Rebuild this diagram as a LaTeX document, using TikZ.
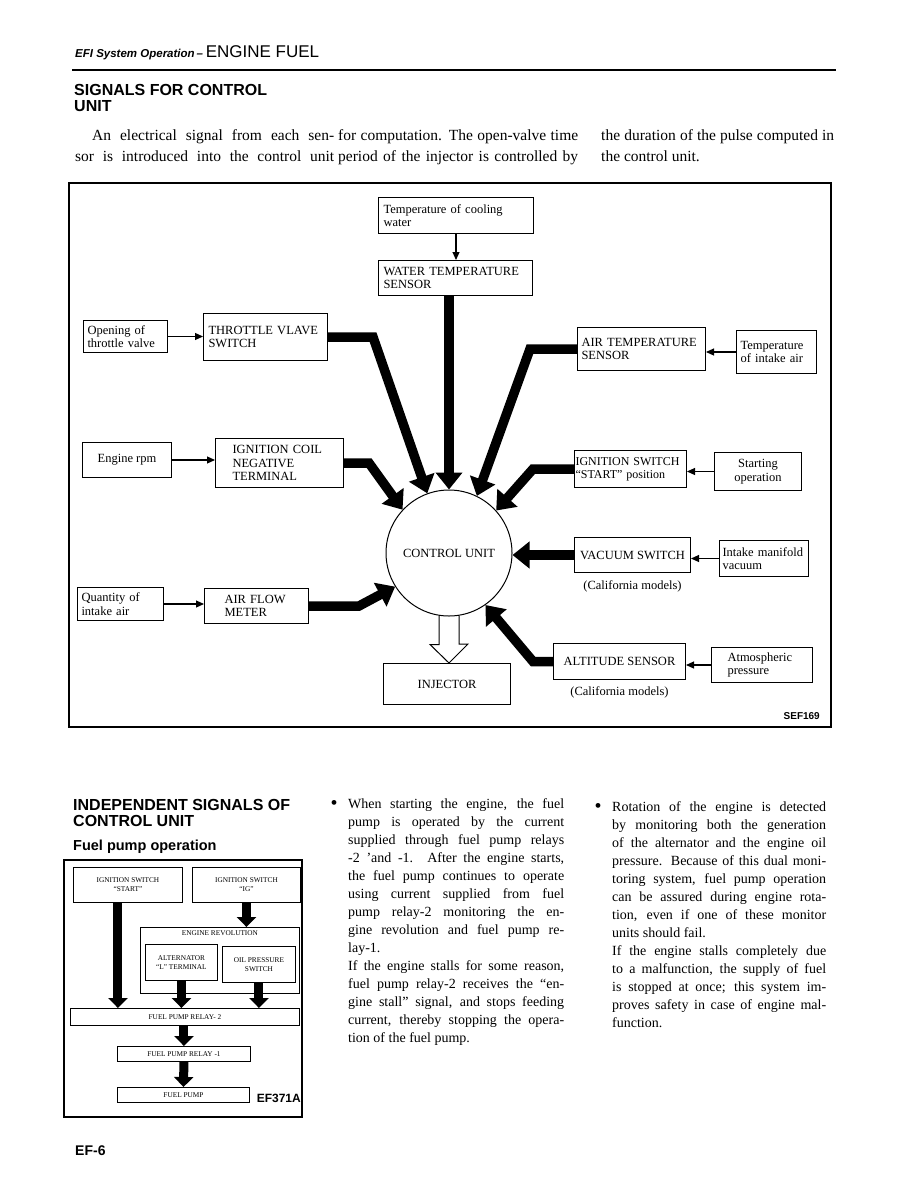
\documentclass[tikz,border=0pt]{standalone}
\usepackage{fontspec}
\setmainfont{Liberation Serif}
\newfontfamily\hsans{Liberation Sans}
\usetikzlibrary{arrows.meta,calc,positioning}

\newcommand\diagfont{\fontsize{12.5}{13.5}\selectfont}
\newcommand\tinyfont{\fontsize{7.3}{9}\selectfont}
\newcommand\topfont{\fontsize{15.5}{21}\selectfont}
\newcommand\colfont{\fontsize{14}{18}\selectfont}
\newcommand\fillline[2]{\makebox[#1pt][s]{#2}}

\tikzset{
  box/.style={draw, line width=1pt, anchor=north west, inner xsep=5pt, inner ysep=0pt,
    align=left, font=\diagfont},
  wh/.style 2 args={minimum width=#1pt, minimum height=#2pt},
  sbox/.style={draw, line width=0.9pt, anchor=north west, inner sep=0pt, align=center,
    font=\tinyfont},
  sig/.style={line width=1.1pt, -{Triangle[length=8pt,width=7pt]}},
  feed/.style={line width=9.5pt, line join=miter, -{Triangle[length=17pt,width=26pt]}},
  hollow/.style={line width=1pt, line join=miter},
  pump/.style={line width=9pt, -{Triangle[length=10pt,width=19pt]}},
  para/.style={anchor=north west, inner sep=0pt, align=left},
  head/.style={anchor=north west, inner sep=0pt, align=left,
    font=\hsans\bfseries\fontsize{16}{16}\selectfont},
  code/.style={inner sep=0pt, font=\hsans\bfseries\fontsize{10}{10}\selectfont},
  dot/.style={inner sep=0pt, font=\fontsize{20}{20}\selectfont},
}

\begin{document}
\begin{tikzpicture}[x=1pt, y=-1pt]
  \useasboundingbox[fill=white] (0,0) rectangle (918,1188);

  % --- page head ---
  \node[anchor=base west, inner sep=0pt] (hdr) at (75,58)
    {{\hsans\bfseries\itshape\fontsize{11.5}{12}\selectfont EFI System Operation\,–}%
     {\hsans\fontsize{17}{18}\selectfont\,ENGINE FUEL}};
  \draw[line width=2.5pt] (72,70) -- (836,70);

  \node[head] (sfc) at (74,84.5) {SIGNALS FOR CONTROL\\UNIT};

  \node[para, font=\topfont] (p1) at (75,129)
    {\hspace*{17pt}\fillline{242}{An electrical signal from each sen-}\\
     \fillline{259}{sor is introduced into the control unit}};
  \node[para, font=\topfont] (p2) at (338,129)
    {\fillline{240}{for computation. The open-valve time}\\
     \fillline{240}{period of the injector is controlled by}};
  \node[para, font=\topfont] (p3) at (601,129)
    {\fillline{233}{the duration of the pulse computed in}\\
     the control unit.};

  % --- signals diagram ---
  \draw[line width=1.3pt] (69,183) rectangle (831,727);

  \node[draw, circle, line width=1pt, minimum size=126pt, inner sep=0pt, font=\diagfont]
    (cu) at (449,553) {CONTROL UNIT};

  \node[box, wh={155}{36}, text width=145pt] (tcw) at (378,197) {Temperature of cooling\\water};
  \node[box, wh={154}{35}, text width=144pt] (wts) at (378,260) {WATER TEMPERATURE\\SENSOR};

  \node[box, wh={84}{32}, text width=76pt, inner xsep=4pt] (otv) at (83,320) {Opening of\\throttle valve};
  \node[box, wh={124}{47}, text width=114pt] (thr) at (203,313) {THROTTLE VLAVE\\SWITCH};

  \node[box, wh={89}{35}, align=center] (erpm) at (82,442) {Engine rpm};
  \node[box, wh={128}{49}, text width=94pt, inner xsep=17pt] (coil) at (215,438)
    {IGNITION COIL\\NEGATIVE\\TERMINAL};

  \node[box, wh={86}{33}, text width=78pt, inner xsep=4pt] (qia) at (77,587) {Quantity of\\intake air};
  \node[box, wh={104}{35}, text width=64pt, inner xsep=20pt] (afm) at (204,588) {AIR FLOW\\METER};

  \node[box, wh={127}{41}, align=center] (inj) at (383,663) {INJECTOR};

  \node[box, wh={128}{43}, text width=120pt, inner xsep=4pt] (ats) at (577,327) {AIR TEMPERATURE\\SENSOR};
  \node[box, wh={80}{43}, text width=72pt, inner xsep=4pt] (tia) at (736,330) {Temperature\\of intake air};

  \node[box, wh={112}{37}, text width=110pt, inner xsep=1pt, font=\fontsize{12}{13}\selectfont] (isw) at (574,450)
    {IGNITION SWITCH\\“START” position};
  \node[box, wh={87}{38}, align=center] (sto) at (714,452) {Starting\\operation};

  \node[box, wh={116}{35}, align=center, inner xsep=2pt] (vac) at (574,537) {VACUUM SWITCH};
  \node[font=\diagfont, below=4pt of vac] (cal1) {(California models)};
  \node[box, wh={89}{36}, text width=83pt, inner xsep=3pt] (imv) at (719,540) {Intake manifold\\vacuum};

  \node[box, wh={132}{36}, align=center] (alt) at (553,643) {ALTITUDE SENSOR};
  \node[font=\diagfont, below=3pt of alt] (cal2) {(California models)};
  \node[box, wh={101}{35}, text width=69pt, inner xsep=16pt] (atm) at (711,647) {Atmospheric\\pressure};

  \node[code, anchor=base east] (sef) at (820,719) {SEF169};

  % thin inputs
  \draw[sig] (tcw.south) -- (tcw.south |- wts.north);
  \draw[sig] (otv.east) -- (otv.east -| thr.west);
  \draw[sig] (erpm.east) -- (erpm.east -| coil.west);
  \draw[sig] (qia.east) -- (qia.east -| afm.west);
  \draw[sig] (tia.west) -- (tia.west -| ats.east);
  \draw[sig] (sto.west) -- (sto.west -| isw.east);
  \draw[sig] (imv.west) -- (imv.west -| vac.east);
  \draw[sig] (atm.west) -- (atm.west -| alt.east);

  % heavy signal lines into the control unit
  \draw[feed] (cu.north |- wts.south) -- (cu.north);
  \draw[feed] (thr.east) -- ++(45,0) -- (cu.110);
  \draw[feed] (coil.east) -- ++(25,0) -- (cu.137);
  \draw[feed] (afm.east) -- ++(50,0) -- (cu.212);
  \draw[feed] (ats.west) -- ++(-47,0) -- (cu.64);
  \draw[feed] (isw.west) -- ++(-41,0) -- (cu.42);
  \draw[feed] (vac.west) -- (cu.east |- vac.west);
  \draw[feed] (alt.west) -- ++(-20,0) -- (cu.-55);

  % output to injector
  \draw[hollow] ($(cu.south)+(-10,-1)$) -- ++(0,29) -- ++(-9,0) -- (cu.south |- inj.north)
    -- ++(19,-19) -- ++(-9,0) -- ($(cu.south)+(10,-1)$);

  % --- independent signals ---
  \node[head] (isc) at (73,799.5) {INDEPENDENT SIGNALS OF\\CONTROL UNIT};
  \node[head, font=\hsans\bfseries\fontsize{14.5}{15}\selectfont] (fpo) at (73,840) {Fuel pump operation};

  \draw[line width=1.2pt] (64,860) rectangle (302,1117);

  \node[sbox, wh={109}{35}] (ss) at (73,867) {IGNITION SWITCH\\“START”};
  \node[sbox, wh={108}{35}] (sig) at (192,867) {IGNITION SWITCH\\“IG”};
  \node[sbox, wh={159}{66}] (erev) at (140,927) {};
  \node[font=\tinyfont, below=3pt of erev.north, inner sep=0pt] (erevt) {ENGINE REVOLUTION};
  \node[sbox, wh={72}{36}] (alnL) at (145,944) {ALTERNATOR\\“L” TERMINAL};
  \node[sbox, wh={73}{36}] (ops) at (222,946) {OIL PRESSURE\\SWITCH};
  \node[sbox, wh={229}{17}] (fr2) at (70,1008) {FUEL PUMP RELAY- 2};
  \node[sbox, wh={133}{15}] (fr1) at (117,1046) {FUEL PUMP RELAY -1};
  \node[sbox, wh={132}{15}] (fp) at (117,1087) {FUEL PUMP};
  \node[code, anchor=base east, font=\hsans\bfseries\fontsize{12}{12}\selectfont] (efa) at (301,1102) {EF371A};

  \draw[pump] ([xshift=-10pt]ss.south) -- ([xshift=-10pt]ss.south |- fr2.north);
  \draw[pump] (sig.south) -- (sig.south |- erev.north);
  \draw[pump] (alnL.south) -- (alnL.south |- fr2.north);
  \draw[pump] (ops.south) -- (ops.south |- fr2.north);
  \draw[pump] (fr2.south -| fr1.north) -- (fr1.north);
  \draw[pump] (fr1.south) -- (fp.north);

  % --- text columns ---
  \node[dot] (bl1) at (334,805) {•};
  \node[para, font=\colfont] (c2) at (348,798.5)
    {\fillline{216}{When starting the engine, the fuel}\\
     \fillline{216}{pump is operated by the current}\\
     \fillline{216}{supplied through fuel pump relays}\\
     \fillline{216}{-2 'and -1. After the engine starts,}\\
     \fillline{216}{the fuel pump continues to operate}\\
     \fillline{216}{using current supplied from fuel}\\
     \fillline{216}{pump relay-2 monitoring the en-}\\
     \fillline{216}{gine revolution and fuel pump re-}\\
     lay-1.\\
     \fillline{216}{If the engine stalls for some reason,}\\
     \fillline{216}{fuel pump relay-2 receives the “en-}\\
     \fillline{216}{gine stall” signal, and stops feeding}\\
     \fillline{216}{current, thereby stopping the opera-}\\
     tion of the fuel pump.};

  \node[dot] (bl2) at (598,808) {•};
  \node[para, font=\colfont] (c3) at (612,801.5)
    {\fillline{214}{Rotation of the engine is detected}\\
     \fillline{214}{by monitoring both the generation}\\
     \fillline{214}{of the alternator and the engine oil}\\
     \fillline{214}{pressure. Because of this dual moni-}\\
     \fillline{214}{toring system, fuel pump operation}\\
     \fillline{214}{can be assured during engine rota-}\\
     \fillline{214}{tion, even if one of these monitor}\\
     units should fail.\\
     \fillline{214}{If the engine stalls completely due}\\
     \fillline{214}{to a malfunction, the supply of fuel}\\
     \fillline{214}{is stopped at once; this system im-}\\
     \fillline{214}{proves safety in case of engine mal-}\\
     function.};

  \node[anchor=base west, inner sep=0pt, font=\hsans\bfseries\fontsize{14}{14}\selectfont] (pg) at (75,1155) {EF-6};
\end{tikzpicture}
\end{document}
